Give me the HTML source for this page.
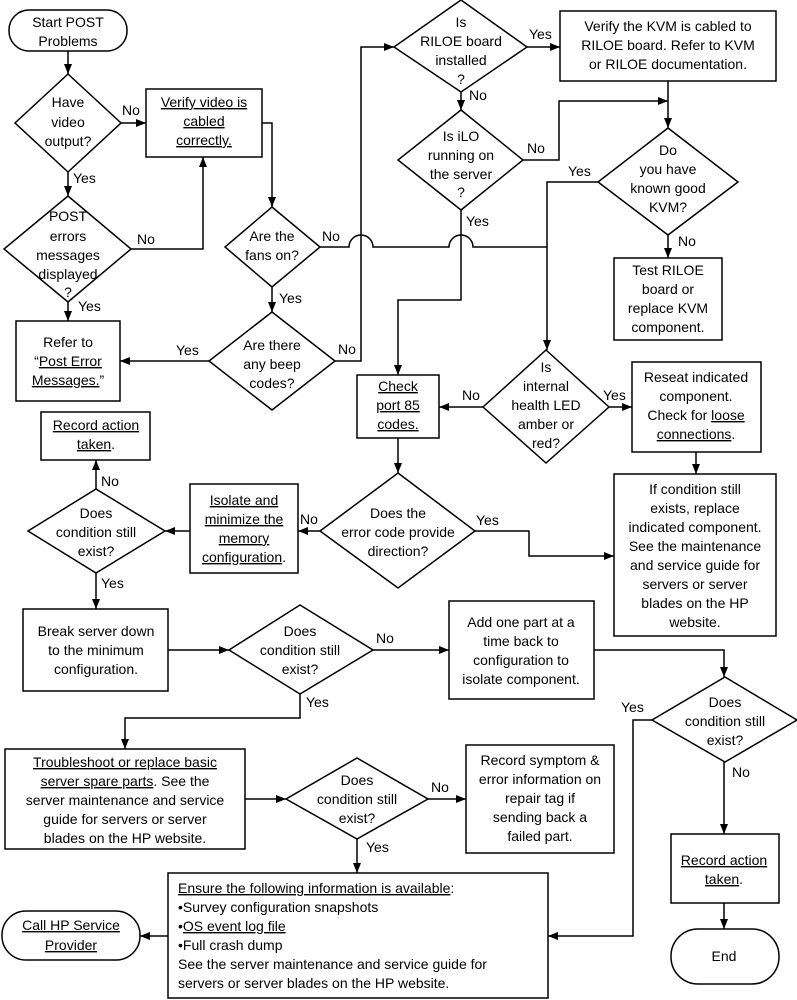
<!DOCTYPE html>
<html><head><meta charset="utf-8"><style>
html,body{margin:0;padding:0;background:#fff}
svg{display:block}
text{font-family:"Liberation Sans",Arial,sans-serif;font-size:14px;fill:#000}
.u{text-decoration:underline}
</style></head><body>
<svg width="797" height="1000" viewBox="0 0 797 1000" xmlns="http://www.w3.org/2000/svg">
<defs><marker id="a" markerWidth="10" markerHeight="8" refX="10" refY="4" orient="auto" markerUnits="userSpaceOnUse"><path d="M0,0 L10,4 L0,8 z" fill="#000"/></marker></defs>
<g fill="none" stroke="#000" stroke-width="1.5">
<!-- shapes -->
<rect x="9" y="10" width="118" height="41" rx="20"/>
<polygon points="68,74 121,123 68,172 15,123"/>
<rect x="146" y="89" width="116" height="68"/>
<polygon points="68,196 131,249 68,302 4,249"/>
<rect x="16" y="321" width="104" height="80"/>
<polygon points="272,207 320,247 272,287 225,247"/>
<polygon points="272,312 335,361 272,410 209,361"/>
<polygon points="461,0 527,47 461,92 394,47"/>
<rect x="560" y="11" width="216" height="70"/>
<polygon points="461,110 523,160 461,210 398,160"/>
<polygon points="668,128 738,182 668,235 598,182"/>
<rect x="614" y="258" width="108" height="82"/>
<polygon points="546,350 609,407 546,463 483,407"/>
<rect x="357" y="375" width="82" height="63"/>
<rect x="632" y="362" width="129" height="90"/>
<rect x="41" y="412" width="109" height="48"/>
<polygon points="96,489 165,531 96,573 28,531"/>
<rect x="190" y="484" width="108" height="89"/>
<polygon points="398,473 475,531 398,588 320,531"/>
<rect x="614" y="474" width="162" height="162"/>
<rect x="23" y="609" width="145" height="82"/>
<polygon points="300,605 373,650 300,694 229,650"/>
<rect x="449" y="601" width="145" height="98"/>
<polygon points="725,677 797,720 725,762 652,720"/>
<rect x="5" y="749" width="240" height="100"/>
<polygon points="357,758 428,799 357,839 286,799"/>
<rect x="466" y="745" width="148" height="108"/>
<rect x="168" y="873" width="380" height="125"/>
<rect x="2" y="911" width="138" height="49" rx="24"/>
<rect x="671" y="834" width="108" height="69"/>
<rect x="671" y="929" width="108" height="55" rx="27"/>
</g>
<g fill="none" stroke="#000" stroke-width="1.5">
<line x1="68" y1="51" x2="68" y2="74" marker-end="url(#a)"/>
<line x1="121" y1="123" x2="146" y2="123" marker-end="url(#a)"/>
<line x1="68" y1="172" x2="68" y2="196" marker-end="url(#a)"/>
<polyline points="131,249 203,249 203,157" marker-end="url(#a)"/>
<line x1="68" y1="302" x2="68" y2="321" marker-end="url(#a)"/>
<polyline points="262,123 272,123 272,207" marker-end="url(#a)"/>
<line x1="272" y1="287" x2="272" y2="312" marker-end="url(#a)"/>
<line x1="209" y1="361" x2="120" y2="361" marker-end="url(#a)"/>
<polyline points="335,361 361,361 361,47 394,47" marker-end="url(#a)"/>
<path d="M320,247 H349 A12,12 0 0 1 373,247 H449 A12,12 0 0 1 473,247 H547"/>
<line x1="527" y1="47" x2="560" y2="47" marker-end="url(#a)"/>
<line x1="461" y1="92" x2="461" y2="110" marker-end="url(#a)"/>
<polyline points="523,160 559,160 559,101 668,101" marker-end="url(#a)"/>
<line x1="668" y1="81" x2="668" y2="128" marker-end="url(#a)"/>
<line x1="668" y1="235" x2="668" y2="258" marker-end="url(#a)"/>
<polyline points="598,182 547,182 547,350" marker-end="url(#a)"/>
<polyline points="461,210 461,300 398,300 398,375" marker-end="url(#a)"/>
<line x1="483" y1="407" x2="439" y2="407" marker-end="url(#a)"/>
<line x1="609" y1="407" x2="632" y2="407" marker-end="url(#a)"/>
<line x1="696" y1="452" x2="696" y2="474" marker-end="url(#a)"/>
<line x1="398" y1="438" x2="398" y2="473" marker-end="url(#a)"/>
<line x1="320" y1="531" x2="298" y2="531" marker-end="url(#a)"/>
<polyline points="475,531 529,531 529,556 614,556" marker-end="url(#a)"/>
<line x1="190" y1="531" x2="165" y2="531" marker-end="url(#a)"/>
<line x1="96" y1="489" x2="96" y2="460" marker-end="url(#a)"/>
<line x1="96" y1="573" x2="96" y2="609" marker-end="url(#a)"/>
<line x1="168" y1="650" x2="229" y2="650" marker-end="url(#a)"/>
<line x1="373" y1="650" x2="449" y2="650" marker-end="url(#a)"/>
<polyline points="594,650 724,650 724,677" marker-end="url(#a)"/>
<polyline points="300,694 300,718 125,718 125,749" marker-end="url(#a)"/>
<line x1="245" y1="799" x2="286" y2="799" marker-end="url(#a)"/>
<line x1="428" y1="799" x2="466" y2="799" marker-end="url(#a)"/>
<line x1="357" y1="839" x2="357" y2="873" marker-end="url(#a)"/>
<polyline points="652,720 633,720 633,936 548,936" marker-end="url(#a)"/>
<line x1="168" y1="936" x2="140" y2="936" marker-end="url(#a)"/>
<line x1="724" y1="762" x2="724" y2="834" marker-end="url(#a)"/>
<line x1="724" y1="903" x2="724" y2="929" marker-end="url(#a)"/>
</g>
<g text-anchor="middle">
<text x="68" y="27">Start POST</text><text x="68" y="46">Problems</text>
<text x="68" y="107">Have</text><text x="68" y="127">video</text><text x="68" y="146">output?</text>
<text x="204" y="107" class="u">Verify video is</text><text x="204" y="126" class="u">cabled</text><text x="204" y="145" class="u">correctly.</text>
<text x="68" y="221">POST</text><text x="68" y="241">errors</text><text x="68" y="260">messages</text><text x="68" y="279">displayed</text><text x="68" y="297">?</text>
<text x="68" y="347">Refer to</text><text x="68" y="366">“<tspan class="u">Post Error</tspan></text><text x="68" y="385"><tspan class="u">Messages.</tspan>”</text>
<text x="272" y="241">Are the</text><text x="272" y="260">fans on?</text>
<text x="272" y="350">Are there</text><text x="272" y="369">any beep</text><text x="272" y="388">codes?</text>
<text x="461" y="27">Is</text><text x="461" y="46">RILOE board</text><text x="461" y="65">installed</text><text x="461" y="84">?</text>
<text x="668" y="31">Verify the KVM is cabled to</text><text x="668" y="50">RILOE board. Refer to KVM</text><text x="668" y="69">or RILOE documentation.</text>
<text x="461" y="141">Is iLO</text><text x="461" y="160">running on</text><text x="461" y="179">the server</text><text x="461" y="197">?</text>
<text x="668" y="155">Do</text><text x="668" y="174">you have</text><text x="668" y="193">known good</text><text x="668" y="212">KVM?</text>
<text x="668" y="275">Test RILOE</text><text x="668" y="294">board or</text><text x="668" y="313">replace KVM</text><text x="668" y="332">component.</text>
<text x="546" y="372">Is</text><text x="546" y="391">internal</text><text x="546" y="410">health LED</text><text x="546" y="429">amber or</text><text x="546" y="448">red?</text>
<text x="398" y="391" class="u">Check</text><text x="398" y="410" class="u">port 85</text><text x="398" y="429" class="u">codes.</text>
<text x="696" y="382">Reseat indicated</text><text x="696" y="401">component.</text><text x="696" y="420">Check for <tspan class="u">loose</tspan></text><text x="696" y="439"><tspan class="u">connections</tspan>.</text>
<text x="96" y="430" class="u">Record action</text><text x="96" y="449"><tspan class="u">taken</tspan>.</text>
<text x="96" y="518">Does</text><text x="96" y="537">condition still</text><text x="96" y="556">exist?</text>
<text x="244" y="505" class="u">Isolate and</text><text x="244" y="524" class="u">minimize the</text><text x="244" y="543" class="u">memory</text><text x="244" y="562"><tspan class="u">configuration</tspan>.</text>
<text x="398" y="518">Does the</text><text x="398" y="537">error code provide</text><text x="398" y="556">direction?</text>
<text x="695" y="494">If condition still</text><text x="695" y="513">exists, replace</text><text x="695" y="532">indicated component.</text><text x="695" y="551">See the maintenance</text><text x="695" y="570">and service guide for</text><text x="695" y="589">servers or server</text><text x="695" y="608">blades on the HP</text><text x="695" y="627">website.</text>
<text x="96" y="636">Break server down</text><text x="96" y="655">to the minimum</text><text x="96" y="674">configuration.</text>
<text x="300" y="636">Does</text><text x="300" y="655">condition still</text><text x="300" y="674">exist?</text>
<text x="521" y="627">Add one part at a</text><text x="521" y="646">time back to</text><text x="521" y="665">configuration to</text><text x="521" y="684">isolate component.</text>
<text x="725" y="707">Does</text><text x="725" y="726">condition still</text><text x="725" y="745">exist?</text>
<text x="125" y="767" class="u">Troubleshoot or replace basic</text><text x="125" y="786"><tspan class="u">server spare parts</tspan>. See the</text><text x="125" y="805">server maintenance and service</text><text x="125" y="824">guide for servers or server</text><text x="125" y="843">blades on the HP website.</text>
<text x="357" y="785">Does</text><text x="357" y="804">condition still</text><text x="357" y="823">exist?</text>
<text x="540" y="765">Record symptom &amp;</text><text x="540" y="784">error information on</text><text x="540" y="803">repair tag if</text><text x="540" y="822">sending back a</text><text x="540" y="841">failed part.</text>
<text x="71" y="930" class="u">Call HP Service</text><text x="71" y="950" class="u">Provider</text>
<text x="724" y="865" class="u">Record action</text><text x="724" y="884"><tspan class="u">taken</tspan>.</text>
<text x="724" y="961">End</text>
</g>
<g>
<text x="178" y="893"><tspan class="u">Ensure the following information is available</tspan>:</text>
<text x="178" y="912">•Survey configuration snapshots</text>
<text x="178" y="931">•<tspan class="u">OS event log file</tspan></text>
<text x="178" y="950">•Full crash dump</text>
<text x="178" y="969">See the server maintenance and service guide for</text>
<text x="178" y="988">servers or server blades on the HP website.</text>
<text x="122" y="115">No</text><text x="73" y="183">Yes</text>
<text x="137" y="244">No</text><text x="78" y="311">Yes</text>
<text x="176" y="355">Yes</text><text x="322" y="241">No</text>
<text x="279" y="303">Yes</text><text x="338" y="354">No</text>
<text x="529" y="39">Yes</text><text x="469" y="100">No</text>
<text x="527" y="153">No</text><text x="568" y="176">Yes</text>
<text x="678" y="246">No</text><text x="466" y="226">Yes</text>
<text x="462" y="400">No</text><text x="603" y="400">Yes</text>
<text x="101" y="486">No</text><text x="101" y="588">Yes</text>
<text x="300" y="524">No</text><text x="476" y="525">Yes</text>
<text x="376" y="643">No</text><text x="306" y="707">Yes</text>
<text x="621" y="712">Yes</text><text x="732" y="777">No</text>
<text x="431" y="792">No</text><text x="366" y="852">Yes</text>
</g>
</svg>
</body></html>
